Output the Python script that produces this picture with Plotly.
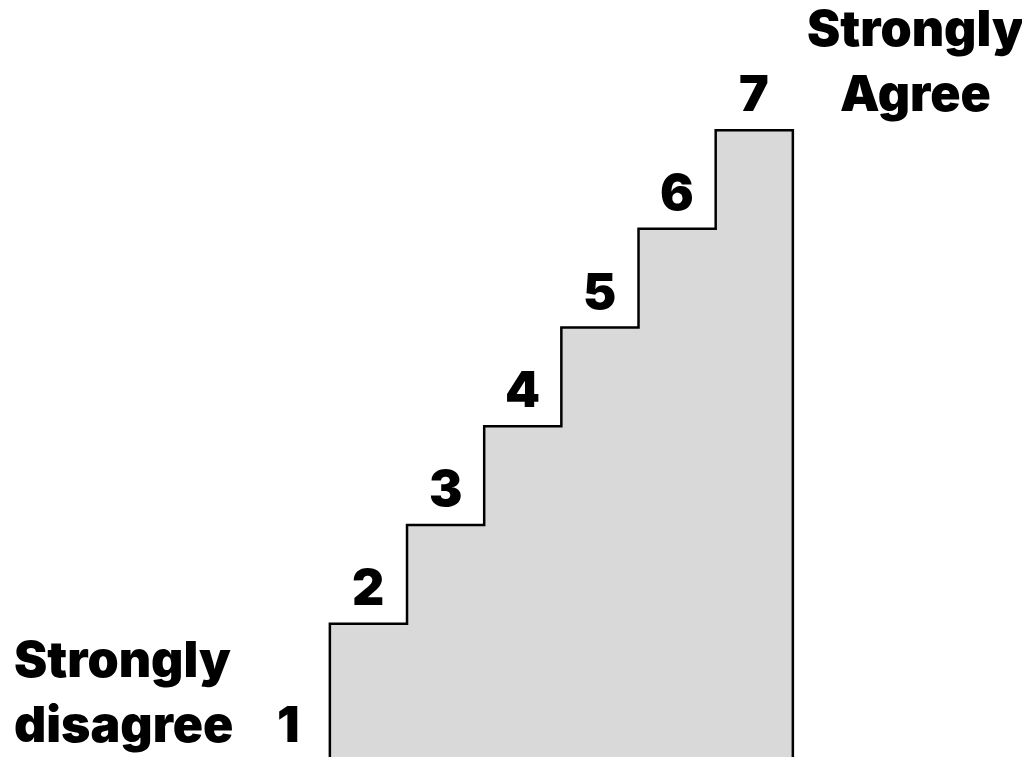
import plotly.graph_objects as go

# Data
levels = [2, 3, 4, 5, 6, 7]
heights = [2, 3, 4, 5, 6, 7]
level_labels = ["2", "3", "4", "5", "6", "7"]
low_label = "1"
low_text = "Strongly<br>disagree"
high_text = "Strongly<br>Agree"

FONT = dict(family="Inter, 'Noto Sans', sans-serif", size=50, weight=900, color="black")

# Staircase outline built from the step data
xs = [levels[0] - 0.5]
ys = [0]
for lv, h in zip(levels, heights):
    xs += [lv - 0.5, lv + 0.5]
    ys += [h, h]
xs.append(levels[-1] + 0.5)
ys.append(0)

fig = go.Figure()
fig.add_trace(go.Scatter(
    x=xs, y=ys, mode="lines", fill="toself", fillcolor="#d9d9d9",
    line=dict(color="black", width=2.5), hoverinfo="skip", showlegend=False,
))

for lv, h, lab in zip(levels, heights, level_labels):
    fig.add_annotation(x=lv, y=h, text=lab, showarrow=False, xanchor="center",
                       yanchor="bottom", yshift=6, font=FONT, borderpad=0)

fig.add_annotation(x=1, y=0, yref="paper", text=low_label, showarrow=False,
                   xanchor="center", yanchor="bottom", xshift=-3, yshift=10,
                   font=FONT, borderpad=0)
fig.add_annotation(x=5 / 1030, xref="paper", y=0, yref="paper", text=low_text,
                   showarrow=False, xanchor="left", yanchor="bottom", align="left",
                   yshift=10, font=FONT, borderpad=0)
fig.add_annotation(x=907 / 1030, xref="paper", y=1 - 116 / 757, yref="paper", text=high_text,
                   showarrow=False, xanchor="center", yanchor="bottom", align="center",
                   font=FONT, borderpad=0)

fig.update_layout(
    width=1030, height=757, margin=dict(l=0, r=0, t=0, b=0),
    paper_bgcolor="white", plot_bgcolor="white",
    xaxis=dict(range=[-2.671, 10.677], visible=False, fixedrange=True),
    yaxis=dict(range=[0.570, 8.237], visible=False, fixedrange=True),
)
fig.write_html("out.html")
